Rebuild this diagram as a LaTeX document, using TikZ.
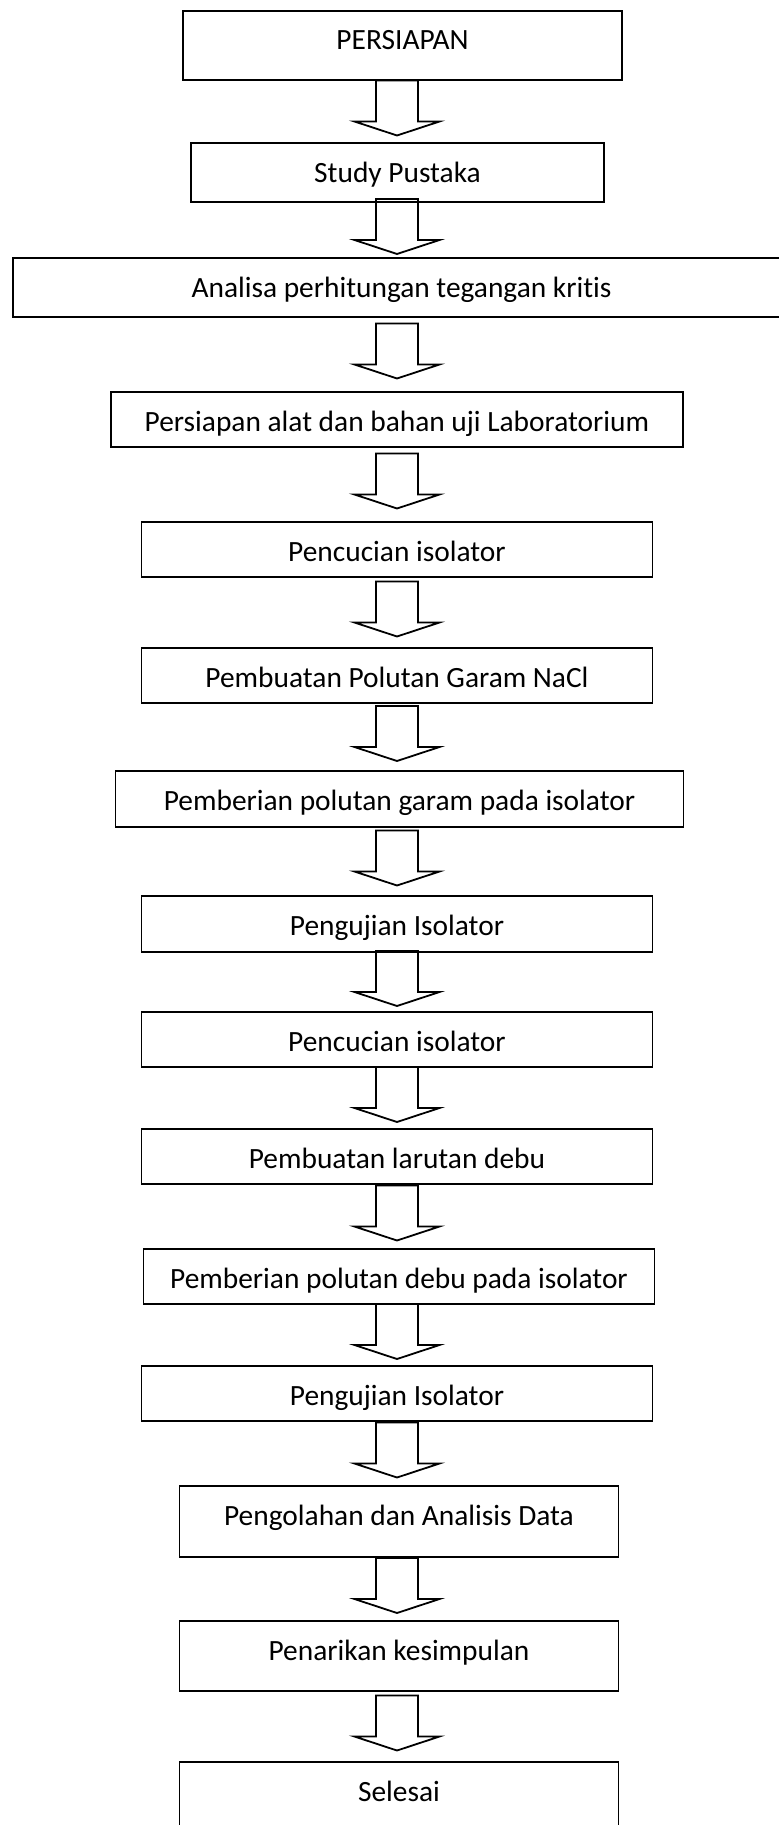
\documentclass[tikz,border=0pt]{standalone}
\usepackage{fontspec}
\setmainfont{Carlito}[Ligatures=NoCommon]
\usetikzlibrary{positioning}
\usetikzlibrary{calc}

\begin{document}
\begin{tikzpicture}[%
    x=0.5pt, y=-0.5pt,
    font=\fontsize{14.7pt}{17pt}\selectfont,
stepbox/.style={rectangle, draw=black, line width=0.9pt, inner xsep=0pt, inner ysep=0pt, outer sep=0pt, text height=19.5pt},
downarrow/.pic={\draw[line width=0.9pt, line join=miter] (-21,-31) -- (21,-31) -- (21,10) -- (42.5,10) -- (0,24) -- (-42.5,10) -- (-21,10) -- cycle;}
]

\useasboundingbox (0,0) rectangle (779,1825);
\coordinate (axis) at (397,0);

% Steps
\node[stepbox, anchor=north, minimum width=219.5pt, text depth=15pt] (persiapan) at (402.5,11) {PERSIAPAN};
\node[stepbox, minimum width=206.5pt, text depth=10pt, xshift=-2.5pt] (studi) [below=31.5pt of persiapan] {Study Pustaka};
\node[stepbox, minimum width=388.5pt, text depth=10pt, xshift=2pt] (analisa) [below=28pt of studi] {Analisa perhitungan tegangan kritis};
\node[stepbox, minimum width=286pt, text depth=8pt, xshift=-2.25pt] (alat) [below=37.5pt of analisa] {Persiapan alat dan bahan uji Laboratorium};

% Salt pollutant
\node[stepbox, minimum width=255.5pt, text depth=8pt] (cuci1) [below=37.5pt of alat] {Pencucian isolator};
\node[stepbox, minimum width=255.5pt, text depth=8pt] (garam) [below=35.5pt of cuci1] {Pembuatan Polutan Garam NaCl};
\node[stepbox, minimum width=284pt, text depth=8.5pt, xshift=1.25pt] (polgaram) [below=34pt of garam] {Pemberian polutan garam pada isolator};
\node[stepbox, minimum width=255.5pt, text depth=8.5pt, xshift=-1.25pt] (uji1) [below=34.5pt of polgaram] {Pengujian Isolator};

% Dust pollutant
\node[stepbox, minimum width=255.5pt, text depth=8pt] (cuci2) [below=30pt of uji1] {Pencucian isolator};
\node[stepbox, minimum width=255.5pt, text depth=8pt] (debu) [below=31pt of cuci2] {Pembuatan larutan debu};
\node[stepbox, minimum width=255.5pt, text depth=8pt, xshift=1pt] (poldebu) [below=32.5pt of debu] {Pemberian polutan debu pada isolator};
\node[stepbox, minimum width=255.5pt, text depth=8pt, xshift=-1pt] (uji2) [below=31pt of poldebu] {Pengujian Isolator};

% Closing
\node[stepbox, minimum width=219.5pt, text depth=16pt, xshift=1pt] (olah) [below=32.5pt of uji2] {Pengolahan dan Analisis Data};
\node[stepbox, minimum width=219.5pt, text depth=15.5pt] (tarik) [below=32pt of olah] {Penarikan kesimpulan};
\node[stepbox, minimum width=219.5pt, text depth=15.5pt] (selesai) [below=35.5pt of tarik] {Selesai};

% Arrows
\pic at ($(axis |- persiapan.south)!.5!(axis |- studi.north)$) {downarrow};
\pic at ($(axis |- studi.south)!.5!(axis |- analisa.north)$) {downarrow};
\pic at ($(axis |- analisa.south)!.5!(axis |- alat.north)$) {downarrow};
\pic at ($(axis |- alat.south)!.5!(axis |- cuci1.north)$) {downarrow};
\pic at ($(axis |- cuci1.south)!.5!(axis |- garam.north)$) {downarrow};
\pic at ($(axis |- garam.south)!.5!(axis |- polgaram.north)$) {downarrow};
\pic at ($(axis |- polgaram.south)!.5!(axis |- uji1.north)$) {downarrow};
\pic at ($(axis |- uji1.south)!.5!(axis |- cuci2.north)$) {downarrow};
\pic at ($(axis |- cuci2.south)!.5!(axis |- debu.north)$) {downarrow};
\pic at ($(axis |- debu.south)!.5!(axis |- poldebu.north)$) {downarrow};
\pic at ($(axis |- poldebu.south)!.5!(axis |- uji2.north)$) {downarrow};
\pic at ($(axis |- uji2.south)!.5!(axis |- olah.north)$) {downarrow};
\pic at ($(axis |- olah.south)!.5!(axis |- tarik.north)$) {downarrow};
\pic at ($(axis |- tarik.south)!.5!(axis |- selesai.north)$) {downarrow};

\end{tikzpicture}
\end{document}
